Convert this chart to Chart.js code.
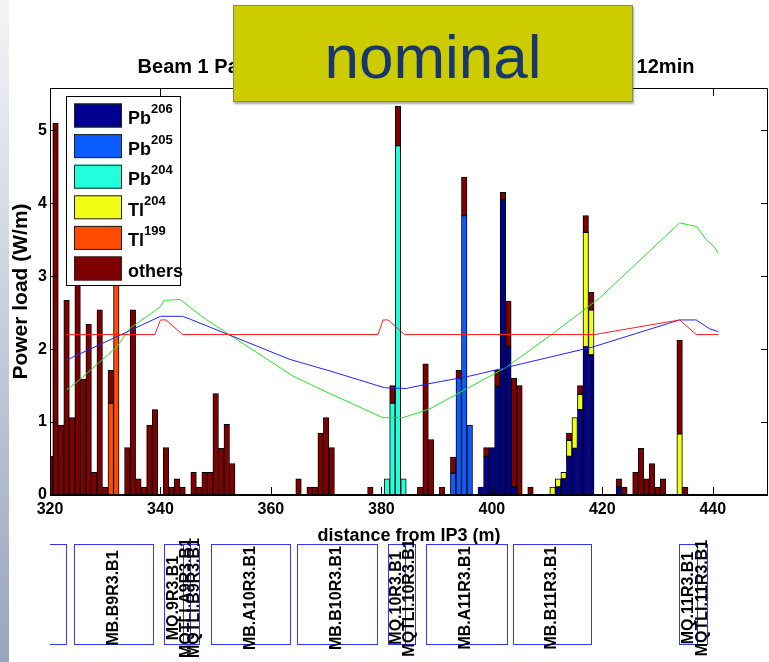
<!DOCTYPE html>
<html>
<head>
<meta charset="utf-8">
<title>Beam 1 power load</title>
<script src="https://cdn.jsdelivr.net/npm/chart.js@4.4.1/dist/chart.umd.min.js"></script>
<style>
  html, body { margin: 0; padding: 0; background: #fff; }
  #page { position: relative; width: 769px; height: 662px; overflow: hidden; font-family: "Liberation Sans", Arial, sans-serif; }
  #strip { position: absolute; left: 0; top: 0; width: 9px; height: 662px; background: linear-gradient(to bottom, #f3f4f7, #98a5bf); }
  #chart { position: absolute; left: 0; top: 0; }
  #nominal {
    position: absolute; left: 233px; top: 5px; width: 398px; height: 95px;
    background: #cccc00; border: 1px solid #8a8a55; box-shadow: 1px 2px 2px rgba(0, 0, 0, 0.35);
    display: flex; align-items: center; justify-content: center; box-sizing: content-box;
    padding-top: 0; color: #17376e; font-size: 62px; line-height: 1;
  }
  #nominal span { position: relative; top: 3px; }
</style>
</head>
<body>
<div id="page">
  <div id="strip"></div>
  <canvas id="chart" width="769" height="662"></canvas>
  <div id="nominal"><span>nominal</span></div>
</div>
<script>
// bin centres (m from IP3) and power load (W/m) for each species, 1 m bins
const pb206Pos = [398, 399, 400, 401, 402, 403, 404, 412, 413, 414, 415, 416, 417, 418, 423];
const pb206Val = [0.11, 0.53, 0.65, 1.49, 4.05, 2.03, 0.11, 0.11, 0.22, 0.53, 0.64, 1.17, 2.03, 1.92, 0.11];

const pb205Pos = [393, 394, 395, 396];
const pb205Val = [0.30, 1.60, 3.83, 0.96];

const pb204Pos = [381, 382, 383, 384];
const pb204Val = [0.22, 1.26, 4.79, 0.22];

const tl204Pos = [411, 412, 413, 414, 415, 416, 417, 418, 434];
const tl204Val = [0.11, 0.11, 0.09, 0.22, 0.42, 0.21, 1.57, 0.62, 0.84];

const tl199Pos = [331, 332];
const tl199Val = [1.26, 3.30];

const othersPos = [320, 321, 322, 323, 324, 325, 326, 327, 328, 329, 330, 331, 334, 335, 336, 337, 338, 339,
  341, 342, 343, 344, 346, 347, 348, 349, 350, 351, 352, 353, 365, 367, 368, 369, 370, 371, 378,
  382, 383, 387, 388, 389, 391, 393, 394, 395, 399, 401, 402, 403, 404, 405, 407, 414, 416, 417, 418,
  423, 424, 426, 427, 428, 429, 430, 431, 434, 435];
const othersVal = [0.53, 5.10, 0.96, 2.67, 1.06, 3.40, 1.59, 2.34, 0.31, 2.54, 0.11, 0.45, 0.65, 2.54, 0.22, 0.11, 0.96, 1.17,
  0.65, 0.11, 0.22, 0.11, 0.31, 0.11, 0.31, 0.31, 1.39, 0.64, 0.97, 0.43, 0.22, 0.11, 0.11, 0.85, 1.06, 0.65, 0.11,
  0.24, 0.54, 0.11, 1.80, 0.76, 0.11, 0.22, 0.11, 0.53, 0.12, 0.22, 0.10, 0.63, 1.49, 1.50, 0.11, 0.10, 0.12, 0.23, 0.24,
  0.11, 0.11, 0.31, 0.64, 0.22, 0.43, 0.11, 0.22, 1.28, 0.11];

// legend text: element + mass number (superscript)
const isotopeBase = ['Pb', 'Pb', 'Pb', 'Tl', 'Tl', 'others'];
const isotopeMass = ['206', '205', '204', '204', '199', ''];
const isotopeColors = ['#000090', '#0a5cff', '#22ffdc', '#f0ff14', '#ff4a00', '#800000'];

// reference curves (W/m)
const redX = [323, 339, 340, 341, 344, 379.4, 380.3, 381.2, 384.2, 418.6, 434, 437, 441];
const redY = [2.2, 2.2, 2.4, 2.4, 2.2, 2.2, 2.4, 2.4, 2.2, 2.2, 2.4, 2.2, 2.2];

const blueX = [323, 340, 344, 345.4, 363.4, 370.7, 380.6, 384.5, 388.2, 396, 418.3, 434, 437, 439.4, 441];
const blueY = [1.85, 2.45, 2.45, 2.41, 1.86, 1.70, 1.47, 1.46, 1.52, 1.63, 2.03, 2.40, 2.40, 2.28, 2.24];

const greenX = [323, 324.9, 332.1, 334.4, 340, 340.7, 343.6, 345.4, 348.4, 364, 370.7, 380.3, 383.9, 388.75,
  396, 402.6, 411, 419.5, 434, 437.1, 438.8, 440.3, 441];
const greenY = [1.44, 1.55, 2.03, 2.28, 2.58, 2.67, 2.68, 2.57, 2.40, 1.63, 1.39, 1.06, 1.06, 1.18,
  1.48, 1.75, 2.21, 2.70, 3.73, 3.68, 3.50, 3.40, 3.31];

// magnet layout below the axis (m from IP3)
const magnetNames = ['MB.A9R3.B1', 'MB.B9R3.B1', 'MQ.9R3.B1', 'MQTLI.A9R3.B1', 'MQTLI.B9R3.B1',
  'MB.A10R3.B1', 'MB.B10R3.B1', 'MQ.10R3.B1', 'MQTLI.10R3.B1', 'MB.A11R3.B1', 'MB.B11R3.B1',
  'MQ.11R3.B1', 'MQTLI.11R3.B1'];
const magnetStart = [308.6, 324.3, 340.7, 344.1, 345.4, 349.2, 364.7, 381.2, 384.2, 388.0, 403.8, 433.9, 437.2];
const magnetEnd = [322.9, 338.6, 344.1, 345.4, 347.0, 363.5, 379.1, 384.2, 386.0, 402.6, 418.0, 437.2, 439.0];

const xTickStep = 20;
const yTickStep = 1;
const xMin = 320, xMax = 450, yMax = 5.58;

const titleText = 'Beam 1 Particle Power Load in DS of IR3 for lifetime 12min';
const FONT = '"Liberation Sans", Arial, sans-serif';

function pairs(xs, ys) {
  return xs.map((x, i) => ({ x: x, y: ys[i] }));
}

const barSeries = [
  pairs(pb206Pos, pb206Val), pairs(pb205Pos, pb205Val), pairs(pb204Pos, pb204Val),
  pairs(tl204Pos, tl204Val), pairs(tl199Pos, tl199Val), pairs(othersPos, othersVal)
];

const datasets = barSeries.map((data, i) => ({
  type: 'bar',
  label: isotopeBase[i] + isotopeMass[i],
  data: data,
  backgroundColor: isotopeColors[i],
  borderColor: '#000',
  borderWidth: 1,
  borderSkipped: false,
  barPercentage: 1,
  categoryPercentage: 1,
  order: 1
}));

[[redX, redY, '#ff2020'], [blueX, blueY, '#2323ff'], [greenX, greenY, '#22e822']].forEach(c => {
  datasets.push({
    type: 'line',
    data: pairs(c[0], c[1]),
    borderColor: c[2],
    borderWidth: 1,
    pointRadius: 0,
    tension: 0,
    fill: false,
    yAxisID: 'yl',
    order: 0
  });
});

// axes box with inward ticks on all four sides
const frame = {
  id: 'frame',
  afterDatasetsDraw(chart) {
    const { ctx, chartArea: a, scales } = chart;
    ctx.save();
    ctx.strokeStyle = '#000';
    ctx.lineWidth = 1;
    ctx.beginPath();
    scales.x.ticks.forEach(t => {
      const px = Math.round(scales.x.getPixelForValue(t.value)) + 0.5;
      ctx.moveTo(px, a.bottom); ctx.lineTo(px, a.bottom - 8);
      ctx.moveTo(px, a.top); ctx.lineTo(px, a.top + 8);
    });
    scales.y.ticks.forEach(t => {
      const py = Math.round(scales.y.getPixelForValue(t.value)) + 0.5;
      ctx.moveTo(a.left, py); ctx.lineTo(a.left + 7, py);
      ctx.moveTo(a.right, py); ctx.lineTo(a.right - 7, py);
    });
    ctx.stroke();
    ctx.beginPath();
    ctx.moveTo(a.left + 0.5, a.bottom);
    ctx.lineTo(a.left + 0.5, a.top + 0.5);
    ctx.lineTo(a.right - 0.5, a.top + 0.5);
    ctx.lineTo(a.right - 0.5, a.bottom);
    ctx.stroke();
    ctx.lineWidth = 2;
    ctx.beginPath();
    ctx.moveTo(a.left, a.bottom);
    ctx.lineTo(a.right, a.bottom);
    ctx.stroke();
    ctx.restore();
  }
};

// boxed legend in the upper left of the plot, element with superscript mass
const legendBox = {
  id: 'legendBox',
  afterDatasetsDraw(chart) {
    const { ctx, chartArea: a } = chart;
    const left = a.left + 16, top = a.top + 8, w = 114, h = 189;
    ctx.save();
    ctx.fillStyle = '#fff';
    ctx.fillRect(left, top, w, h);
    ctx.strokeStyle = '#000';
    ctx.lineWidth = 1;
    ctx.strokeRect(left + 0.5, top + 0.5, w, h);
    for (let i = 0; i < isotopeBase.length; i++) {
      const cy = top + 19.5 + i * 30.6;
      ctx.fillStyle = chart.data.datasets[i].backgroundColor;
      ctx.fillRect(left + 8, cy - 12, 48, 24);
      ctx.strokeStyle = '#222';
      ctx.strokeRect(left + 8.5, cy - 11.5, 47, 23);
      ctx.fillStyle = '#000';
      ctx.textAlign = 'left';
      ctx.textBaseline = 'alphabetic';
      ctx.font = 'bold 18px ' + FONT;
      const tx = left + 62, ty = cy + 8.5;
      ctx.fillText(isotopeBase[i], tx, ty);
      if (isotopeMass[i]) {
        const bw = ctx.measureText(isotopeBase[i]).width;
        ctx.font = 'bold 13px ' + FONT;
        ctx.fillText(isotopeMass[i], tx + bw, ty - 11);
      }
    }
    ctx.restore();
  }
};

const titleDraw = {
  id: 'titleDraw',
  afterDraw(chart) {
    const { ctx, chartArea: a } = chart;
    ctx.save();
    ctx.fillStyle = '#000';
    ctx.font = 'bold 20px ' + FONT;
    ctx.textAlign = 'center';
    ctx.textBaseline = 'alphabetic';
    ctx.fillText(titleText, (a.left + a.right) / 2 + 7, a.top - 15.5);
    ctx.restore();
  }
};

// magnet boxes and names, placed on the same x scale as the histogram
const magnets = {
  id: 'magnets',
  afterDraw(chart) {
    const { ctx, chartArea: a, scales } = chart;
    const top = a.bottom + 49, h = 100;
    ctx.save();
    ctx.beginPath();
    ctx.rect(a.left, 0, a.right - a.left, chart.height);
    ctx.clip();
    ctx.strokeStyle = '#3535ff';
    ctx.lineWidth = 1;
    ctx.fillStyle = '#000';
    ctx.font = 'bold 16px ' + FONT;
    ctx.textAlign = 'center';
    ctx.textBaseline = 'middle';
    magnetNames.forEach((name, i) => {
      const x1 = scales.x.getPixelForValue(magnetStart[i]);
      const x2 = scales.x.getPixelForValue(magnetEnd[i]);
      ctx.strokeRect(Math.round(x1) + 0.5, Math.round(top) + 0.5, Math.round(x2 - x1), h);
      ctx.save();
      ctx.translate((x1 + x2) / 2, top + h / 2 + 4);
      ctx.rotate(-Math.PI / 2);
      ctx.fillText(name, 0, 0);
      ctx.restore();
    });
    ctx.restore();
  }
};

new Chart(document.getElementById('chart'), {
  type: 'bar',
  data: { datasets: datasets },
  plugins: [frame, legendBox, titleDraw, magnets],
  options: {
    responsive: false,
    animation: false,
    layout: { padding: { top: 88, right: 1, bottom: 115, left: 0 } },
    plugins: {
      legend: { display: false },
      title: { display: false },
      tooltip: { enabled: false }
    },
    scales: {
      x: {
        type: 'linear',
        min: xMin,
        max: xMax,
        offset: false,
        stacked: true,
        grid: { display: false, drawTicks: false },
        border: { display: false },
        ticks: {
          stepSize: xTickStep,
          includeBounds: false,
          maxRotation: 0,
          autoSkip: false,
          padding: 5,
          color: '#000',
          font: { family: FONT, size: 16, weight: 'bold' }
        },
        title: {
          display: true,
          text: 'distance from IP3 (m)',
          color: '#000',
          padding: { top: 0, bottom: 0 },
          font: { family: FONT, size: 18, weight: 'bold' }
        },
        afterFit(scale) { scale.height = 52; }
      },
      y: {
        min: 0,
        max: yMax,
        stacked: true,
        grid: { display: false, drawTicks: false },
        border: { display: false },
        ticks: {
          stepSize: yTickStep,
          includeBounds: false,
          padding: 3,
          color: '#000',
          font: { family: FONT, size: 16, weight: 'bold' }
        },
        title: {
          display: true,
          text: 'Power load (W/m)',
          color: '#000',
          padding: { top: 9, bottom: 0 },
          font: { family: FONT, size: 21, weight: 'bold' }
        },
        afterFit(scale) { scale.width = 50; }
      },
      yl: {
        display: false,
        min: 0,
        max: yMax
      }
    }
  }
});
</script>
</body>
</html>
